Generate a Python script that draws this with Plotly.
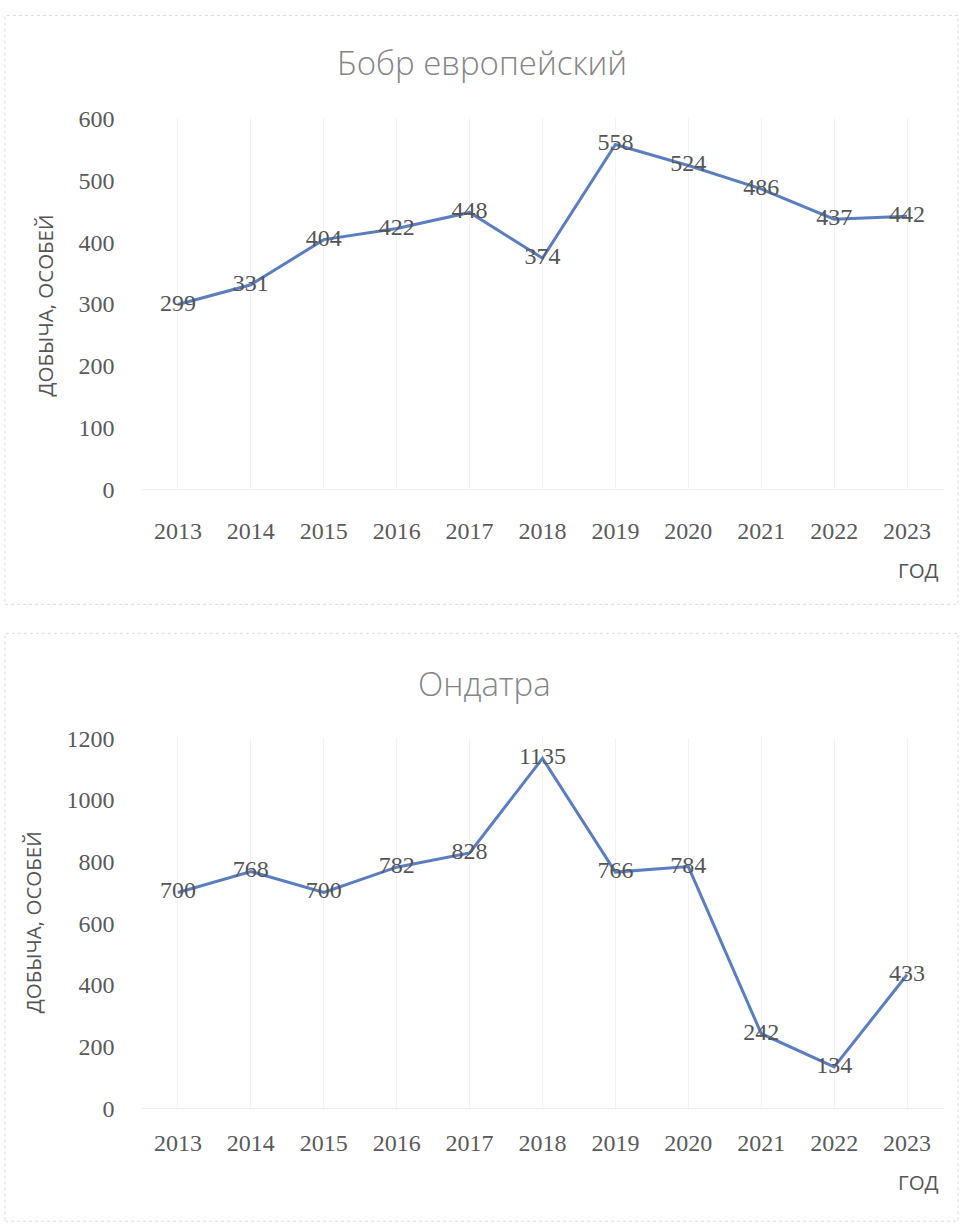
import plotly.graph_objects as go

years = [2013, 2014, 2015, 2016, 2017, 2018, 2019, 2020, 2021, 2022, 2023]
beaver = [299, 331, 404, 422, 448, 374, 558, 524, 486, 437, 442]
muskrat = [700, 768, 700, 782, 828, 1135, 766, 784, 242, 134, 433]
titles = ["Бобр европейский", "Ондатра"]
y_title = "ДОБЫЧА, ОСОБЕЙ"
x_title = "ГОД"

W, H = 961, 1224
# vertical correction measured from the rendered page
SY, OY = 0.979, 12.5
def py(px):
    return 1 - ((px - OY) / SY) / H
def pxx(px):
    return px / W

line_color = "#5a7ec0"
label_font = dict(family="Liberation Serif", size=24, color="#555555")
tick_font = dict(family="Liberation Serif", size=24, color="#5a5a5a")

fig = go.Figure()
fig.add_trace(go.Scatter(x=years, y=beaver, mode="lines+text", text=[str(v) for v in beaver],
                         textposition="middle center", textfont=label_font,
                         line=dict(color=line_color, width=3), xaxis="x", yaxis="y",
                         showlegend=False))
fig.add_trace(go.Scatter(x=years, y=muskrat, mode="lines+text", text=[str(v) for v in muskrat],
                         textposition="middle center", textfont=label_font,
                         line=dict(color=line_color, width=3), xaxis="x2", yaxis="y2",
                         showlegend=False))

xdom = [pxx(141.5), pxx(943.5)]
common_x = dict(range=[2012.5, 2023.5], tickvals=years, ticktext=[str(y) for y in years],
                showgrid=True, gridcolor="#f3f3f3", gridwidth=1, zeroline=False,
                showline=True, linecolor="#eeeeee", ticks="", tickfont=tick_font,
                fixedrange=True)
common_y = dict(showgrid=False, zeroline=False, showline=False, ticks="",
                tickfont=tick_font, ticklabelstandoff=26, fixedrange=True)

fig.update_layout(
    width=W, height=H, margin=dict(l=0, r=0, t=0, b=0),
    paper_bgcolor="white", plot_bgcolor="white",
    xaxis=dict(domain=xdom, anchor="y", ticklabelstandoff=20, **common_x),
    yaxis=dict(domain=[py(489), py(118)], range=[0, 600], dtick=100, anchor="x", **common_y),
    xaxis2=dict(domain=xdom, anchor="y2", ticklabelstandoff=13, **common_x),
    yaxis2=dict(domain=[py(1108), py(738)], range=[0, 1200], dtick=200, anchor="x2", **common_y),
)

ann = []
title_font = dict(family="Open Sans", size=33, color="#858585", weight=300)
ann.append(dict(text=titles[0], x=pxx(482), y=py(62), xref="paper", yref="paper", showarrow=False,
                font=title_font, xanchor="center", yanchor="middle"))
ann.append(dict(text=titles[1], x=pxx(484), y=py(683), xref="paper", yref="paper", showarrow=False,
                font=title_font, xanchor="center", yanchor="middle"))
axis_font = dict(family="Open Sans", size=20.5, color="#555555")
ann.append(dict(text=y_title, x=pxx(45), y=py(305), xref="paper", yref="paper", showarrow=False,
                textangle=-90, font=axis_font, xanchor="center", yanchor="middle"))
ann.append(dict(text=y_title, x=pxx(33), y=py(922), xref="paper", yref="paper", showarrow=False,
                textangle=-90, font=axis_font, xanchor="center", yanchor="middle"))
ann.append(dict(text=x_title, x=pxx(918), y=py(570), xref="paper", yref="paper", showarrow=False,
                font=axis_font, xanchor="center", yanchor="middle"))
ann.append(dict(text=x_title, x=pxx(918), y=py(1182), xref="paper", yref="paper", showarrow=False,
                font=axis_font, xanchor="center", yanchor="middle"))
fig.update_layout(annotations=ann)

shapes = [
    dict(type="rect", xref="paper", yref="paper", x0=pxx(5), x1=pxx(958), y0=py(604), y1=py(15),
         line=dict(color="#dddddd", width=1, dash="dot")),
    dict(type="rect", xref="paper", yref="paper", x0=pxx(5), x1=pxx(958), y0=py(1221), y1=py(633),
         line=dict(color="#dddddd", width=1, dash="dot")),
]
fig.update_layout(shapes=shapes)

fig.write_html("out.html", config={"displayModeBar": False},
               post_script="document.body.style.margin='0';document.body.style.overflow='hidden';")
